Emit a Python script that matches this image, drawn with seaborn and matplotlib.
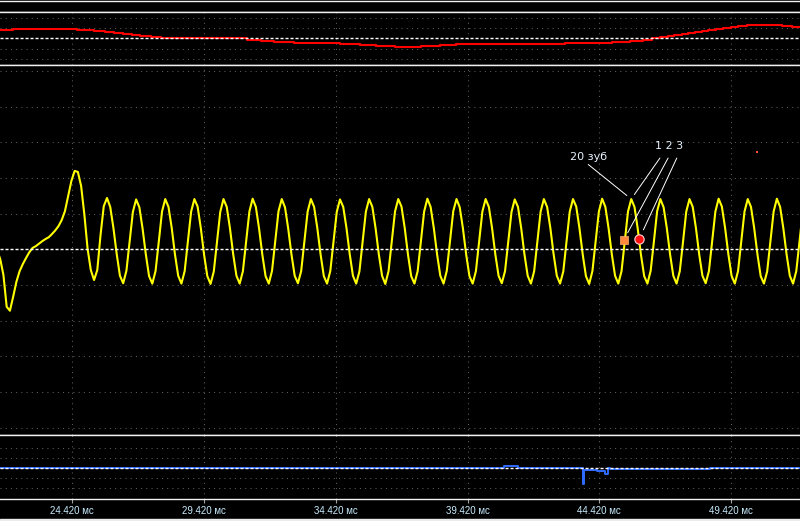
import seaborn as sns
import matplotlib.pyplot as plt
from matplotlib.patches import Rectangle
import numpy as np
import pandas as pd

sns.set_theme(style='dark', rc={'axes.facecolor': 'black', 'figure.facecolor': 'black'})
plt.rcParams['font.family'] = ['DejaVu Sans']

# screen time base, ms
x_left, x_right = 21.676, 52.036
tick_pos = [24.42, 29.42, 34.42, 39.42, 44.42, 49.42]
tick_labels = ['24.420 мс', '29.420 мс', '34.420 мс', '39.420 мс', '44.420 мс', '49.420 мс']

# yellow channel (divisions), sampled every ch_a_step ms from ch_a_start
ch_a_start = 21.561
ch_a_step = 0.12281
ch_a = [
    -0.02, -0.27, -0.72, -1.61, -1.72, -1.33, -0.91, -0.61, -0.41, -0.24,
    -0.08, 0.04, 0.09, 0.16, 0.23, 0.29, 0.34, 0.43, 0.53, 0.65,
    0.82, 1.07, 1.49, 1.92, 2.20, 2.17, 1.78, 0.98, 0.02, -0.58,
    -0.86, -0.58, 0.40, 1.21, 1.44,
    1.19, 0.59, -0.13, -0.74, -0.95, -0.60, 0.22, 1.05, 1.40,
    1.18, 0.58, -0.14, -0.75, -0.96, -0.61, 0.21, 1.06, 1.41,
    1.19, 0.60, -0.14, -0.74, -0.96, -0.61, 0.22, 1.06, 1.41,
    1.20, 0.59, -0.15, -0.75, -0.97, -0.62, 0.21, 1.05, 1.41,
    1.19, 0.59, -0.14, -0.74, -0.96, -0.61, 0.22, 1.06, 1.42,
    1.19, 0.58, -0.15, -0.75, -0.96, -0.60, 0.23, 1.07, 1.41,
    1.18, 0.58, -0.14, -0.74, -0.95, -0.61, 0.22, 1.06, 1.41,
    1.19, 0.59, -0.14, -0.75, -0.96, -0.61, 0.21, 1.05, 1.40,
    1.19, 0.60, -0.13, -0.74, -0.96, -0.62, 0.21, 1.06, 1.41,
    1.19, 0.59, -0.14, -0.74, -0.97, -0.61, 0.22, 1.06, 1.41,
    1.20, 0.60, -0.14, -0.75, -0.96, -0.61, 0.22, 1.06, 1.42,
    1.19, 0.59, -0.14, -0.74, -0.96, -0.60, 0.23, 1.07, 1.41,
    1.18, 0.58, -0.15, -0.75, -0.96, -0.61, 0.22, 1.06, 1.41,
    1.19, 0.59, -0.14, -0.74, -0.95, -0.61, 0.21, 1.05, 1.40,
    1.19, 0.59, -0.14, -0.74, -0.96, -0.61, 0.22, 1.06, 1.41,
    1.19, 0.60, -0.13, -0.74, -0.96, -0.62, 0.21, 1.06, 1.41,
    1.20, 0.59, -0.14, -0.75, -0.97, -0.61, 0.22, 1.06, 1.42,
    1.19, 0.59, -0.14, -0.74, -0.96, -0.61, 0.22, 1.06, 1.41,
    1.19, 0.58, -0.15, -0.75, -0.96, -0.60, 0.22, 1.07, 1.41,
    1.18, 0.59, -0.14, -0.74, -0.96, -0.61, 0.21, 1.06, 1.41,
    1.19, 0.59, -0.14, -0.74, -0.95, -0.61, 0.22, 1.06, 1.42,
    1.20, 0.60, -0.13, -0.74, -0.96, -0.61, 0.22, 1.06, 1.41,
    1.19, 0.59, -0.14, -0.75, -0.96, -0.62, 0.21, 1.06, 1.42,
    1.19, 0.59, -0.14, -0.74, -0.96, -0.61, 0.22, 1.06,
]

# red channel (top), step changes: time ms / level div
ch_b_t = [21.60, 22.158, 24.598, 25.243, 25.661, 26.002, 26.344, 26.685, 26.989, 27.406,
          27.786, 31.050, 31.581, 32.074, 32.833, 34.579, 35.338, 35.945, 36.666, 37.653,
          38.374, 38.981, 43.118, 44.901, 45.585, 46.078, 46.419, 46.723, 47.027, 47.254,
          47.558, 47.786, 48.051, 48.317, 48.545, 48.849, 49.114, 49.418, 49.684, 50.025,
          51.354, 51.733, 52.10]
ch_b_v = [0.8, 0.9, 0.8, 0.7, 0.6, 0.5, 0.4, 0.3, 0.2, 0.1,
          0.0, -0.1, -0.2, -0.3, -0.4, -0.5, -0.6, -0.7, -0.8, -0.7,
          -0.6, -0.5, -0.4, -0.3, -0.2, -0.1, 0.0, 0.1, 0.2, 0.3,
          0.4, 0.5, 0.6, 0.7, 0.8, 0.9, 1.0, 1.1, 1.2, 1.3,
          1.2, 1.1, 1.1]

# blue channel (bottom)
ch_c_t = [21.60, 40.803, 41.334, 43.812, 43.838, 44.320, 44.617, 44.731, 44.826, 48.621, 52.10]
ch_c_v = [0.0, 0.14, 0.0, -1.66, -0.26, -0.33, -0.66, -0.06, -0.16, -0.04, -0.04]

# markers on the yellow trace
tooth_t, tooth_v = 45.63, 1.41
mark2_t, mark2_v = 45.345, 0.26
mark3_t, mark3_v = 45.937, 0.30
speck_t, speck_v = 50.393, 2.72

H = 521.0
def panel(top_px, bot_px):
    return [0, 1 - bot_px / H, 1, (bot_px - top_px) / H]

fig = plt.figure(figsize=(8, 5.21), dpi=100)
ax_head = fig.add_axes(panel(1.3, 12.3))
ax_top = fig.add_axes(panel(12.3, 65.3))
ax_mid = fig.add_axes(panel(65.3, 434.5))
ax_bot = fig.add_axes(panel(434.5, 499.3))

grid_kw = dict(color='#5e5e5e', lw=0.75, linestyle=(0, (1, 4)))
for ax in [ax_head, ax_top, ax_mid, ax_bot]:
    ax.set_facecolor('black')
    ax.set_xlim(x_left, x_right)
    for s in ['left', 'right']:
        ax.spines[s].set_visible(False)
    for s in ['top', 'bottom']:
        ax.spines[s].set_color('#f2f2f2')
        ax.spines[s].set_linewidth(1.0)
    ax.set_xlabel('')
    ax.set_ylabel('')
ax_head.set_xticks([])
ax_head.set_yticks([])

limits = {ax_top: ((-2.60, 2.54), [-2, -1, 1, 2]),
          ax_mid: ((-5.19, 5.16), [-5, -4, -3, -2, -1, 1, 2, 3, 4, 5]),
          ax_bot: ((-3.16, 3.32), [-2, -1, 1, 2])}
for ax, (lim, gl) in limits.items():
    ax.set_ylim(*lim)
    ax.set_yticks(gl)
    ax.set_xticks(tick_pos)
    ax.grid(True, **grid_kw)
    ax.set_axisbelow(True)
    ax.tick_params(axis='y', left=False, labelleft=False)
    ax.tick_params(axis='x', bottom=False, labelbottom=False)

# traces
df_a = pd.DataFrame({'t': ch_a_start + ch_a_step * np.arange(len(ch_a)), 'v': ch_a})
sns.lineplot(data=df_a, x='t', y='v', ax=ax_mid, color='#ffff00', lw=1.5,
             estimator=None, sort=False, zorder=3)
sns.lineplot(x=ch_b_t, y=ch_b_v, ax=ax_top, color='#ff0000', lw=1.5,
             drawstyle='steps-post', estimator=None, sort=False, zorder=3)
sns.lineplot(x=ch_c_t, y=ch_c_v, ax=ax_bot, color='#2f6bff', lw=1.4,
             drawstyle='steps-post', estimator=None, sort=False, zorder=3)
for ax in [ax_top, ax_mid, ax_bot]:
    ax.axhline(0, color='white', lw=1.0, dashes=(2.2, 1.4), zorder=4)
    ax.set_xlabel('')
    ax.set_ylabel('')

# markers
sns.scatterplot(x=[mark2_t], y=[mark2_v], ax=ax_mid, marker='s', s=30,
                color='#ff8a3d', edgecolor='#ffb070', linewidth=0.5, zorder=6)
sns.scatterplot(x=[mark3_t], y=[mark3_v], ax=ax_mid, marker='o', s=45,
                color='#ff1010', edgecolor='#ffd6d6', linewidth=0.8, zorder=6)
sns.scatterplot(x=[speck_t], y=[speck_v], ax=ax_mid, marker='s', s=2,
                color='#ff5522', linewidth=0, zorder=6)

# annotations
txt_kw = dict(color='#e8f3ff', fontsize=8, ha='center', va='center', zorder=7)
line_kw = dict(arrowstyle='-', color='white', lw=0.7, shrinkA=0)
ax_mid.text(44.03, 2.59, '20 зуб', **txt_kw)
ax_mid.annotate('', xy=(tooth_t, tooth_v), xytext=(44.00, 2.38),
                arrowprops=dict(shrinkB=4, **line_kw))
ax_mid.text(47.08, 2.90, '1 2 3', **txt_kw)
ax_mid.annotate('', xy=(tooth_t, tooth_v), xytext=(46.72, 2.56),
                arrowprops=dict(shrinkB=4, **line_kw))
ax_mid.annotate('', xy=(mark2_t, mark2_v), xytext=(47.03, 2.56),
                arrowprops=dict(shrinkB=6, **line_kw))
ax_mid.annotate('', xy=(mark3_t, mark3_v), xytext=(47.36, 2.56),
                arrowprops=dict(shrinkB=7, **line_kw))

# time labels under the bottom channel
ax_bot.tick_params(axis='x', bottom=True, labelbottom=True, length=3, width=0.8,
                   color='#a0a0a0', labelsize=7, labelcolor='#c8ecff', pad=1.5)
ax_bot.set_xticklabels(tick_labels)
for lbl in ax_bot.get_xticklabels():
    lbl.set_family(['Liberation Sans Narrow', 'Liberation Sans', 'DejaVu Sans'])

fig.add_artist(Rectangle((0, 0), 1, 2.3 / H, transform=fig.transFigure,
                         color='#ececec', zorder=0))

fig.savefig('out.png', dpi=100, facecolor='black')
